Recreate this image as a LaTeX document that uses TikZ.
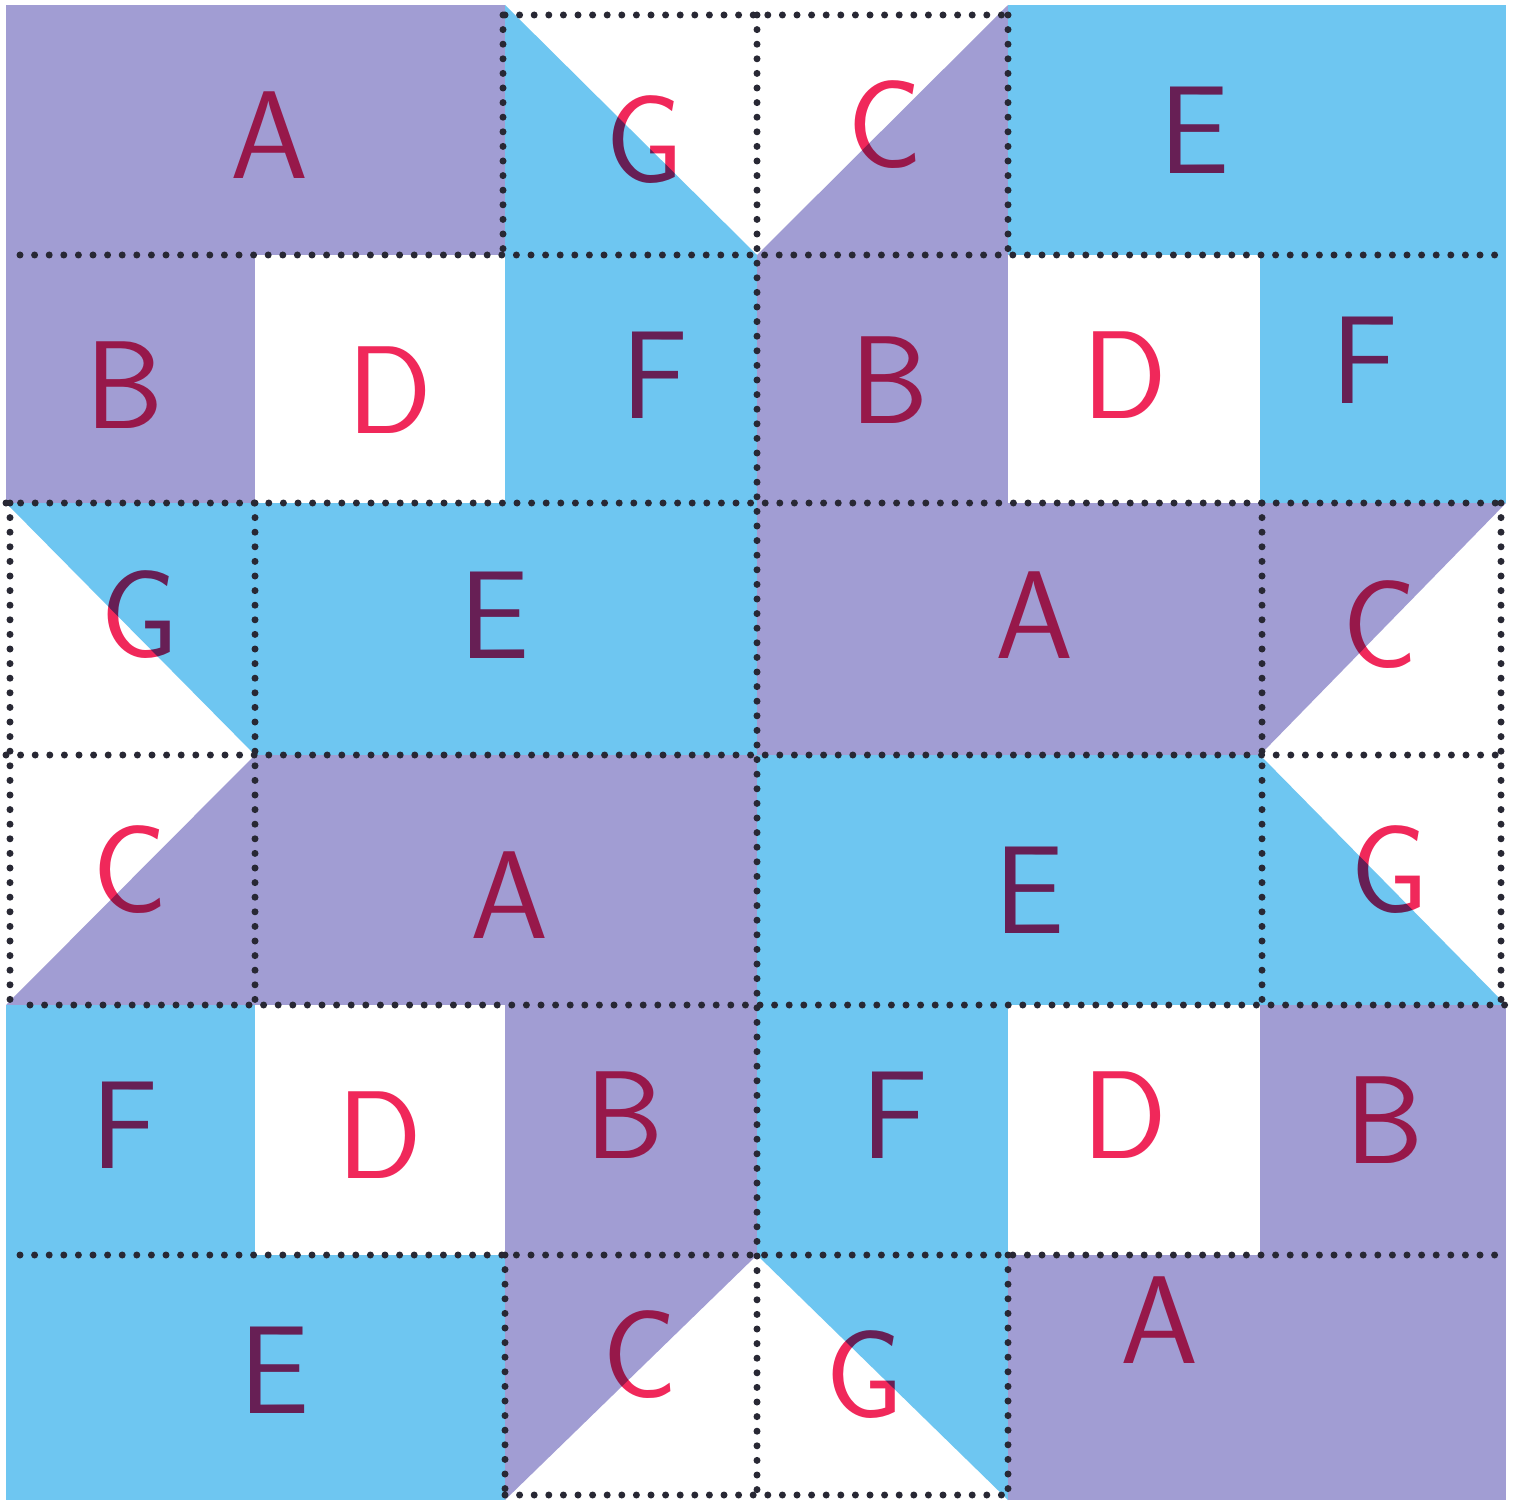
\documentclass[tikz,border=0pt]{standalone}
\usetikzlibrary{calc}
\definecolor{qpurple}{RGB}{161,157,211}
\definecolor{qblue}{RGB}{110,198,241}
\definecolor{qdot}{RGB}{40,40,52}
\definecolor{qred}{RGB}{240,40,90}
\tikzset{
  pur/.style={fill=qpurple,draw=none},
  blu/.style={fill=qblue,draw=none},
  seam/.style={draw=qdot,line width=7pt,line cap=round,dash pattern=on 0pt off 14.6pt},
  letter/.style={text=qred,inner sep=0pt,font=\sffamily\fontsize{125}{125}\selectfont}
}
\begin{document}
\begin{tikzpicture}[x=1pt,y=-1pt]
\useasboundingbox (0,0) rectangle (1519,1506);
\fill[white] (0,0) rectangle (1519,1506);
% row 0
\fill[pur] (6,5) rectangle (505,255);
\fill[blu] (505,5) -- (505,255) -- (757,255) -- cycle;
\fill[pur] (1008,5) -- (1008,255) -- (757,255) -- cycle;
\fill[blu] (1008,5) rectangle (1506,255);
% row 1
\fill[pur] (6,255) rectangle (255,503);
\fill[blu] (505,255) rectangle (757,503);
\fill[pur] (757,255) rectangle (1008,503);
\fill[blu] (1260,255) rectangle (1506,503);
% row 2
\fill[blu] (6,503) -- (255,503) -- (255,755) -- cycle;
\fill[blu] (255,503) rectangle (757,755);
\fill[pur] (757,503) rectangle (1260,755);
\fill[pur] (1260,503) -- (1506,503) -- (1260,755) -- cycle;
% row 3
\fill[pur] (255,755) -- (255,1005) -- (6,1005) -- cycle;
\fill[pur] (255,755) rectangle (757,1005);
\fill[blu] (757,755) rectangle (1260,1005);
\fill[blu] (1260,755) -- (1260,1005) -- (1506,1005) -- cycle;
% row 4
\fill[blu] (6,1005) rectangle (255,1255);
\fill[pur] (505,1005) rectangle (757,1255);
\fill[blu] (757,1005) rectangle (1008,1255);
\fill[pur] (1260,1005) rectangle (1506,1255);
% row 5
\fill[blu] (6,1255) rectangle (505,1500);
\fill[pur] (505,1255) -- (757,1255) -- (505,1500) -- cycle;
\fill[blu] (757,1255) -- (1008,1255) -- (1008,1500) -- cycle;
\fill[pur] (1008,1255) rectangle (1506,1500);
% seams
\draw[seam] (505,15) -- (1008,15);
\draw[seam] (503,15) -- (503,255);
\draw[seam] (1008,15) -- (1008,255);
\draw[seam] (757,15) -- (757,1495);
\draw[seam] (20,255) -- (1500,255);
\draw[seam] (6,503) -- (1506,503);
\draw[seam] (10,503) -- (10,1005);
\draw[seam] (255,503) -- (255,1005);
\draw[seam] (1262,503) -- (1262,1005);
\draw[seam] (1501,503) -- (1501,1005);
\draw[seam] (6,755) -- (1506,755);
\draw[seam] (30,1005) -- (1506,1005);
\draw[seam] (20,1255) -- (1500,1255);
\draw[seam] (505,1255) -- (505,1495);
\draw[seam] (1008,1255) -- (1008,1495);
\draw[seam] (505,1495) -- (1008,1495);
% letters
\begin{scope}[blend mode=multiply]
\node[letter] (l00) at (270,135) {A};
\node[letter] (l02) at (645,140) {G};
\node[letter] (l03) at (885,125) {C};
\node[letter] (l04) at (1195,130) {E};
\node[letter] (l10) at (125,385) {B};
\node[letter] (l11) at (390,390) {D};
\node[letter] (l12) at (655,375) {F};
\node[letter] (l13) at (890,380) {B};
\node[letter] (l14) at (1125,375) {D};
\node[letter] (l15) at (1365,360) {F};
\node[letter] (l20) at (140,615) {G};
\node[letter] (l21) at (495,615) {E};
\node[letter] (l23) at (1035,615) {A};
\node[letter] (l25) at (1380,625) {C};
\node[letter] (l30) at (130,870) {C};
\node[letter] (l31) at (510,895) {A};
\node[letter] (l33) at (1030,890) {E};
\node[letter] (l35) at (1390,870) {G};
\node[letter] (l40) at (125,1125) {F};
\node[letter] (l41) at (380,1135) {D};
\node[letter] (l42) at (625,1115) {B};
\node[letter] (l43) at (895,1115) {F};
\node[letter] (l44) at (1125,1115) {D};
\node[letter] (l45) at (1385,1120) {B};
\node[letter] (l50) at (275,1370) {E};
\node[letter] (l52) at (640,1355) {C};
\node[letter] (l53) at (865,1375) {G};
\node[letter] (l54) at (1160,1320) {A};
\end{scope}
\end{tikzpicture}
\end{document}
